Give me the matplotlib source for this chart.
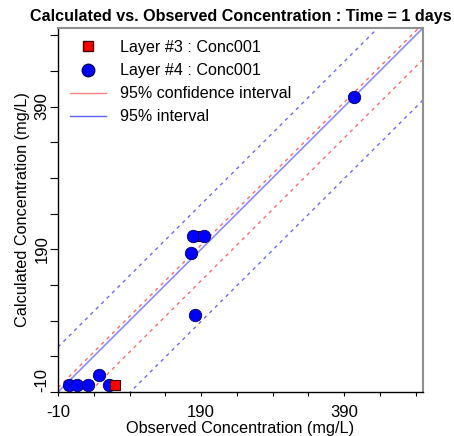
import numpy as np
import matplotlib.pyplot as plt
from matplotlib.lines import Line2D

plt.rcParams['font.family'] = ['Liberation Sans', 'DejaVu Sans']
plt.rcParams['axes.unicode_minus'] = False

# observed / calculated concentrations (mg/L)
layer3_obs = [70, 187]
layer3_calc = [0.5, 209]
layer4_obs = [6, 17, 31.5, 47, 61.5, 176.5, 179, 181, 194, 404]
layer4_calc = [0.5, 0.5, 0.5, 14, 0.5, 185, 209, 97.5, 209, 404]

# interval offsets from the 1:1 line
conf_offsets = [6, -44]
pred_offsets = [63, -101]

lo, hi = -10, 500

fig = plt.figure(figsize=(4.54, 4.36), dpi=100)
ax = fig.add_axes([58/454, 1-392/436, 365/454, 364/436])

xs = np.array([lo, hi])
ax.plot(xs, xs, color='#8c8cff', lw=1.2, zorder=1)
for off in conf_offsets:
    ax.plot(xs, xs + off, color='#ff6a6a', lw=1, ls=(0, (2.5, 3)), zorder=1)
for off in pred_offsets:
    ax.plot(xs, xs + off, color='#6a6aff', lw=1, ls=(0, (2.5, 3)), zorder=1)

# red square at the bottom sits over its neighbour, the upper one under
for x, y, z in zip(layer3_obs, layer3_calc, [4, 2]):
    ax.scatter(x, y, marker='s', s=55, color='red', edgecolors='#400000',
               linewidths=0.8, zorder=z, clip_on=False)
ax.scatter(layer4_obs, layer4_calc, marker='o', s=80, color='#0000ff',
           edgecolors='#000060', linewidths=0.6, zorder=3, clip_on=False)

ax.set_xlim(lo, hi)
ax.set_ylim(lo, hi)

major = [-10, 190, 390]
minor = np.arange(-10, hi, 50)
ax.set_xticks(major)
ax.set_yticks(major)
ax.set_xticks(minor, minor=True)
ax.set_yticks(minor, minor=True)
ax.tick_params(axis='x', which='both', length=3, width=0.8, labelsize=12, pad=6)
ax.tick_params(axis='y', which='both', length=6, width=0.8, labelsize=12, pad=0)
for i, lab in enumerate(ax.get_yticklabels()):
    lab.set_rotation(90)
    lab.set_va('bottom' if i == 0 else 'center')

for side in ['top', 'right']:
    ax.spines[side].set_color('#909090')
    ax.spines[side].set_linewidth(1.5)
for side in ['left', 'bottom']:
    ax.spines[side].set_linewidth(1.0)

ax.set_xlabel('Observed Concentration (mg/L)', fontsize=11.7, labelpad=1)
ax.set_ylabel('Calculated Concentration (mg/L)', fontsize=11.7, labelpad=3)
ax.set_title('Calculated vs. Observed Concentration : Time = 1 days',
             fontsize=11.6, fontweight='bold', pad=5)

handles = [
    Line2D([], [], marker='s', ls='none', color='red', markeredgecolor='#400000',
           markersize=7),
    Line2D([], [], marker='o', ls='none', color='#0000ff', markeredgecolor='#000060',
           markersize=9),
    Line2D([], [], color='#ff8080', lw=1),
    Line2D([], [], color='#6060ff', lw=1),
]
labels = ['Layer #3 : Conc001', 'Layer #4 : Conc001',
          '95% confidence interval', '95% interval']
ax.legend(handles, labels, loc='upper left', frameon=False, fontsize=11.6,
          handlelength=2.2, handletextpad=0.9, labelspacing=0.5,
          bbox_to_anchor=(0.0, 1.0), borderaxespad=0.35)

fig.savefig('out.png', dpi=100)
